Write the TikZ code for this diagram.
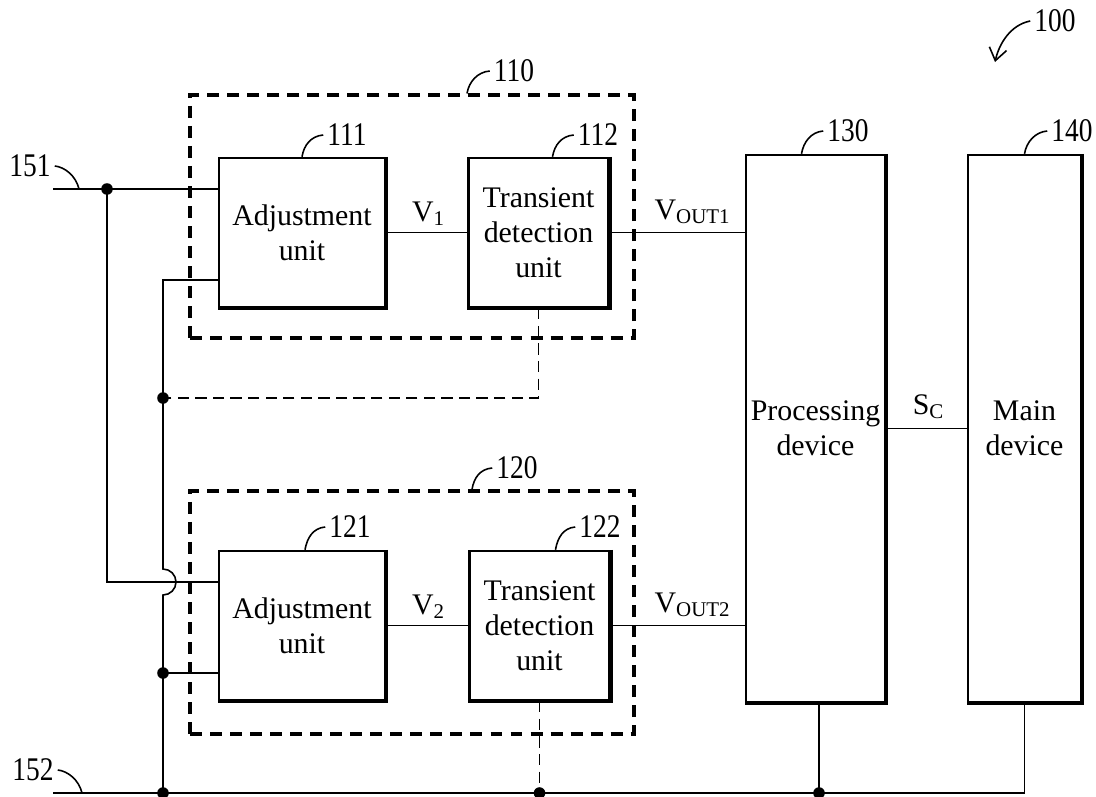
\documentclass[tikz,border=0pt]{standalone}
\usepackage{graphicx}
\usepackage{fontspec}
\setmainfont{Liberation Serif}
\usetikzlibrary{calc,arrows.meta}

\tikzset{
  unit/.style={draw, line width=0.7pt, inner sep=0pt, align=center,
    font=\fontsize{8.5}{10}\selectfont},
  group/.style={draw, line width=0.9pt, dash pattern=on 3.4pt off 2.3pt,
    inner sep=0pt},
  wire/.style={line width=0.45pt},
  ctrl/.style={line width=0.5pt, dash pattern=on 3.2pt off 1.8pt},
  dot/.style={circle, fill=black, inner sep=0pt, minimum size=3.3pt},
  num/.style={inner sep=1pt, font=\fontsize{9.4}{10}\selectfont},
  sig/.style={inner sep=0pt, font=\fontsize{8.5}{10}\selectfont}
}

\begin{document}
\begin{tikzpicture}
  [x=0.1mm, y=-0.1mm]
    \useasboundingbox[fill=white] (0,0) rectangle (1096,796);
    % dashed groups
    \node[group, minimum width=44.4mm, minimum height=24.3mm] (g1) at (412,216.5) {};
    \node[group, minimum width=44.4mm, minimum height=24.3mm] (g2) at (412,612.5) {};
    % units
    \node[unit, minimum width=16.6mm, minimum height=14.9mm] (a1) at (302,232.5) {Adjustment\\unit};
    \node[unit, minimum width=14.0mm, minimum height=14.9mm] (t1) at (538.5,232.5) {Transient\\detection\\unit};
    \node[unit, minimum width=16.6mm, minimum height=14.9mm] (a2) at (302,625.5) {Adjustment\\unit};
    \node[unit, minimum width=14.0mm, minimum height=14.9mm] (t2) at (539.5,625.5) {Transient\\detection\\unit};
    \node[unit, minimum width=13.9mm, minimum height=54.7mm] (proc) at (815.5,428.5) {Processing\\device};
    \node[unit, minimum width=11.3mm, minimum height=54.7mm] (main) at (1024.5,428.5) {Main\\device};
    \foreach \b in {a1,t1,a2,t2,proc,main}{
      \draw[line width=1.1pt] (\b.north east) -- (\b.south east) -- (\b.south west);}
    % reference numbers
    \foreach \n/\x/\y in {110/514/71,111/347/135,112/598/135,120/517/468,
                  121/350/527,122/600/527,130/848/131,140/1072/131,
                  100/1055/21,151/30/166,152/33/770}{
      \node[num] (l\n) at (\x,\y) {\scalebox{0.83}[1]{\n}};}
    \foreach \b/\n/\dx in {g1/110/55,a1/111/0,t1/112/14,g2/120/60,
                  a2/121/3,t2/122/16,proc/130/-14,main/140/0}{
      \draw[wire] ($(\b.north)+(\dx,0)$) .. controls +(2,-12) and +(-12,1) .. (l\n.west);}
    \coordinate (p100) at (995,62);
    \draw[wire, -{Straight Barb[length=3.5pt, width=5pt]}]
      (l100.west) .. controls +(-20,4) and +(4,-18) .. (p100);
    % junctions
    \coordinate (in1) at (53,189);
    \coordinate (in2) at (53,793);
    \coordinate (k1) at (163,280);
    \coordinate (hop) at (163,582);
    \node[dot] (j1) at (107,189) {};
    \node[dot] (j2) at (163,398) {};
    \node[dot] (j3) at (163,673) {};
    \node[dot] (j4) at (163,793) {};
    \node[dot] (j5) at (t2.south |- in2) {};
    \node[dot] (j6) at (819,793) {};
    % supply lines
    \draw[wire] (in1) -- (j1.center) -- (j1.center -| a1.west);
    \draw[wire] (j1.center) |- (a2.west |- hop);
    \draw[wire] (k1 -| a1.west) -- (k1) -- ($(hop)+(0,-13)$)
      arc[start angle=-90, end angle=90, radius=13] -- (j4.center);
    \draw[wire] (j3.center) -- (j3.center -| a2.west);
    \draw[wire] (in2) -- (j4.center) -- (j5.center) -- (j6.center) -| (main.south);
    \draw[wire] (proc.south -| j6) -- (j6.center);
    \draw[wire] ($(in1)+(26,0)$) .. controls +(-3,-13) and +(10,1) .. (l151.east);
    \draw[wire] ($(in2)+(29,0)$) .. controls +(-3,-13) and +(10,1) .. (l152.east);
    % control lines
    \draw[ctrl] (t1.south) |- (j2.center);
    \draw[ctrl] (t2.south) -- (j5.center);
    % signals
    \draw[wire] (a1) -- (t1);
    \draw[wire] (a2) -- (t2);
    \draw[wire] (t1.east) -- (t1.east -| proc.west);
    \draw[wire] (t2.east) -- (t2.east -| proc.west);
    \draw[wire] (proc) -- (main);
    \node[sig] (v1) at (429,214) {V\textsubscript{1}};
    \node[sig] (v2) at (429,607) {V\textsubscript{2}};
    \node[sig] (vo1) at (693,212) {V\textsubscript{OUT1}};
    \node[sig] (vo2) at (693,605) {V\textsubscript{OUT2}};
    \node[sig] (sc) at (929,407) {S\textsubscript{C}};
\end{tikzpicture}
\end{document}
